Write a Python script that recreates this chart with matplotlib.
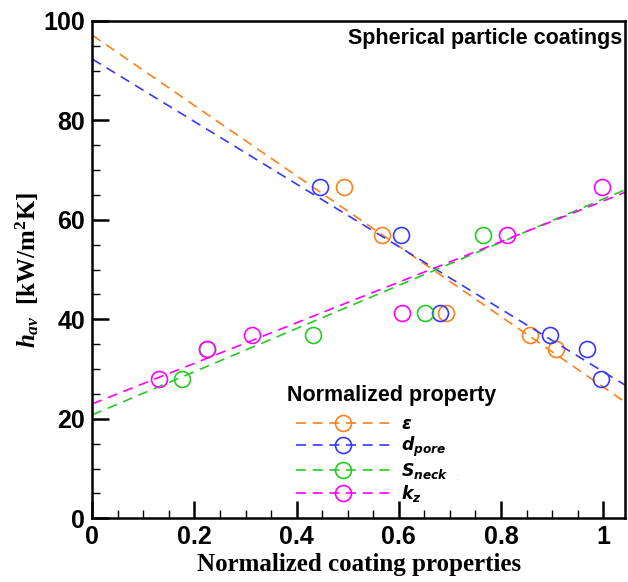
import numpy as np
import matplotlib
matplotlib.use("Agg")
import matplotlib.pyplot as plt
from matplotlib.ticker import MultipleLocator

plt.rcParams.update({
    "mathtext.fontset": "custom",
    "mathtext.rm": "Liberation Serif:bold",
    "mathtext.it": "Liberation Serif:italic:bold",
    "mathtext.bf": "Liberation Serif:bold",
    "mathtext.sf": "DejaVu Sans:italic:bold",
})

# h_av values and normalized property value of each visible marker
h_eps = [66.6, 57.0, 41.2, 36.8, 34.1]
x_eps = [0.492, 0.568, 0.692, 0.857, 0.908]
h_dpore = [66.6, 57.0, 41.2, 36.8, 34.1, 28.0]
x_dpore = [0.446, 0.604, 0.680, 0.895, 0.968, 0.995]
h_sneck = [57.0, 41.2, 36.8, 34.1, 28.0]
x_sneck = [0.764, 0.651, 0.432, 0.225, 0.175]
h_kz = [66.6, 57.0, 41.2, 36.8, 34.1, 28.0]
x_kz = [0.997, 0.812, 0.607, 0.312, 0.225, 0.131]

# dashed trend lines, read at the left and right axis edges
line_x = [0.0, 1.0425]
line_eps = [97.1, 23.4]
line_dpore = [92.3, 26.8]
line_sneck = [20.8, 66.0]
line_kz = [23.0, 65.5]

labels = [r"$\mathsf{\varepsilon}$", r"$\mathsf{d_{pore}}$",
          r"$\mathsf{S_{neck}}$", r"$\mathsf{k_{z}}$"]
colors = ["#FF8019", "#3838F8", "#22CC22", "#FF00FF"]

fig = plt.figure(figsize=(6.28, 5.82), dpi=100)
ax = fig.add_axes([0.147, 0.1095, 0.848, 0.8548])

series = [(x_eps, h_eps, line_eps), (x_dpore, h_dpore, line_dpore),
          (x_sneck, h_sneck, line_sneck), (x_kz, h_kz, line_kz)]
dash = (0, (6, 4))
handles = []
for (xs, hs, ln), c, lab in zip(series, colors, labels):
    ax.plot(line_x, ln, ls=dash, color=c, lw=1.2)
    ax.plot(xs, hs, ls="none", marker="o", ms=11.5, mfc="none",
            mec=c, mew=1.2)
    h, = ax.plot([], [], ls=dash, color=c, lw=1.2, marker="o",
                 ms=11.5, mfc="none", mec=c, mew=1.2, label=lab)
    handles.append(h)

ax.set_xlim(0, 1.0425)
ax.set_ylim(0, 100)
ax.xaxis.set_minor_locator(MultipleLocator(0.05))
ax.yaxis.set_major_locator(MultipleLocator(20))
ax.yaxis.set_minor_locator(MultipleLocator(5))
ax.set_xticks([0, 0.2, 0.4, 0.6, 0.8, 1.0])
ax.set_xticklabels(["0", "0.2", "0.4", "0.6", "0.8", "1"])
ax.tick_params(which="major", direction="in", length=12, width=1.8,
               labelsize=18, pad=5)
ax.tick_params(which="minor", direction="in", length=6, width=1.0)
ax.tick_params(axis="x", which="major", pad=5)
for lbl in ax.get_xticklabels() + ax.get_yticklabels():
    lbl.set_fontfamily("Liberation Sans")
    lbl.set_fontweight("bold")
for s in ax.spines.values():
    s.set_linewidth(1.8)

ax.set_xlabel("Normalized coating properties", fontfamily="Liberation Serif",
              fontweight="bold", fontsize=18, labelpad=3)
ax.set_ylabel(r"$h_{av}$  [kW/m$^{2}$K]", fontfamily="Liberation Serif",
              fontweight="bold", fontsize=18, labelpad=2)

ax.text(0.995, 0.985, "Spherical particle coatings", transform=ax.transAxes,
        ha="right", va="top", fontfamily="Liberation Sans",
        fontweight="bold", fontsize=15.5)

ax.text(0.365, 0.246, "Normalized property", transform=ax.transAxes,
        ha="left", va="center", fontfamily="Liberation Sans",
        fontweight="bold", fontsize=15.5)
leg = ax.legend(handles=handles, frameon=False,
                loc="upper left", bbox_to_anchor=(0.382, 0.208),
                handlelength=5.5, handletextpad=0.55, labelspacing=0.12,
                borderpad=0, borderaxespad=0, prop={"size": 12.5})

ax.text(0.687, 0.077, ":", transform=ax.transAxes, fontsize=6,
        color="#bbbbbb", ha="center")

fig.savefig("out.png", dpi=100)
